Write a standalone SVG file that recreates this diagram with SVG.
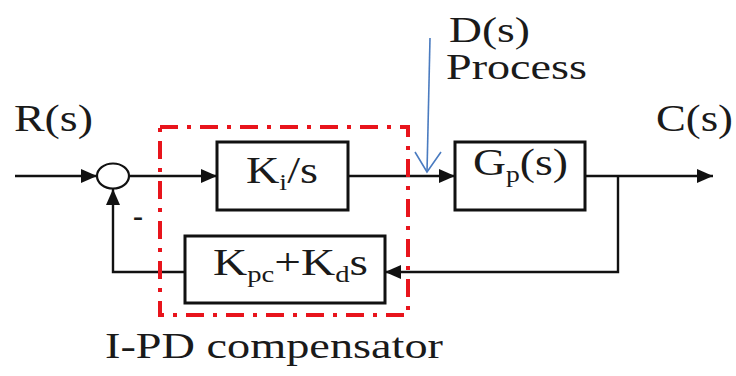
<svg xmlns="http://www.w3.org/2000/svg" width="736" height="376" viewBox="0 0 736 376">
<style>
.t{font-family:"Liberation Serif","Times New Roman",serif;fill:#1a1a1a;}
.ln{stroke:#111;stroke-width:2.4;fill:none;}
.box{stroke:#111;stroke-width:3;fill:#fff;}
.sub{font-size:23px;}
</style>
<defs>
<marker id="ah" viewBox="0 0 16 14" refX="16" refY="7" markerWidth="16" markerHeight="14" markerUnits="userSpaceOnUse" orient="auto">
<path d="M0,0 L16,7 L0,14 Z" fill="#111"/>
</marker>
</defs>
<rect width="736" height="376" fill="#fff"/>
<g id="connectors">
<line class="ln" x1="15" y1="176" x2="97" y2="176" marker-end="url(#ah)"/>
<line class="ln" x1="129" y1="176" x2="217" y2="176" marker-end="url(#ah)"/>
<line class="ln" x1="348" y1="176" x2="455" y2="176" marker-end="url(#ah)"/>
<line class="ln" x1="585" y1="176" x2="713" y2="176" marker-end="url(#ah)"/>
<polyline class="ln" points="618,176 618,272 385,272" marker-end="url(#ah)"/>
<polyline class="ln" points="185,272 113,272 113,189" marker-end="url(#ah)"/>
<path d="M430,38 L427,172" fill="none" stroke="#4a7bc0" stroke-width="1.6"/>
<path d="M415,152 L427,172 L441,152" fill="none" stroke="#4a7bc0" stroke-width="1.6"/>
</g>
<g id="sum"><ellipse cx="113" cy="176" rx="16" ry="12.5" fill="#fff" stroke="#111" stroke-width="2.2"/>
<text class="t" x="133" y="226" font-size="30" font-weight="bold">-</text></g>
<g id="compensator">
<rect x="160" y="127" width="248" height="188" fill="none" stroke="#e8141c" stroke-width="4" stroke-dasharray="18 9 4 9"/>
<text class="t" x="105" y="358" font-size="35" textLength="338" lengthAdjust="spacingAndGlyphs">I-PD compensator</text>
</g>
<g id="ki"><rect class="box" x="217" y="142" width="131" height="68"/>
<text class="t" x="246" y="183" font-size="38" textLength="72" lengthAdjust="spacingAndGlyphs">K<tspan class="sub" dy="7">i</tspan><tspan dy="-7">/s</tspan></text></g>
<g id="kpd"><rect class="box" x="185" y="236" width="200" height="67"/>
<text class="t" x="213" y="275" font-size="38" textLength="155" lengthAdjust="spacingAndGlyphs">K<tspan class="sub" dy="7">pc</tspan><tspan dy="-7">+K</tspan><tspan class="sub" dy="7">d</tspan><tspan dy="-7">s</tspan></text></g>
<g id="gp"><rect class="box" x="455" y="142" width="130" height="68"/>
<text class="t" x="473" y="175" font-size="38" textLength="95" lengthAdjust="spacingAndGlyphs">G<tspan class="sub" dy="7">p</tspan><tspan dy="-7">(s)</tspan></text></g>
<g id="labels">
<text class="t" x="14" y="131" font-size="38" textLength="79" lengthAdjust="spacingAndGlyphs">R(s)</text>
<text class="t" x="449" y="42" font-size="36" textLength="81" lengthAdjust="spacingAndGlyphs">D(s)</text>
<text class="t" x="446" y="79" font-size="36" textLength="141" lengthAdjust="spacingAndGlyphs">Process</text>
<text class="t" x="656" y="131" font-size="38" textLength="77" lengthAdjust="spacingAndGlyphs">C(s)</text>
</g>
</svg>
